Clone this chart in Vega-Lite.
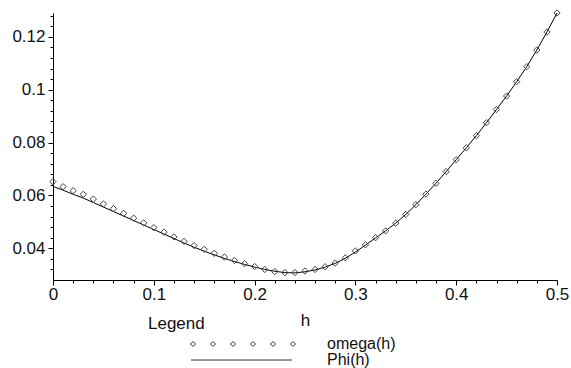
{
  "$schema": "https://vega.github.io/schema/vega-lite/v6.json",
  "width": 504,
  "height": 267,
  "autosize": "none",
  "padding": {"left": 53, "top": 13, "right": 14, "bottom": 88},
  "background": "white",
  "config": {
    "view": {"stroke": null},
    "font": "Liberation Sans",
    "axis": {"grid": false, "domainColor": "black", "tickColor": "black", "labelColor": "#111", "labelFont": "Liberation Sans", "labelFontSize": 17, "titleFont": "Liberation Sans", "titleFontWeight": "normal", "titleColor": "#111", "titleFontSize": 17, "labelOverlap": false}
  },
  "datasets": {
    "curves": [
      {"h": 0.00, "omega": 0.0652, "Phi": 0.0634},
      {"h": 0.01, "omega": 0.0633, "Phi": 0.0620},
      {"h": 0.02, "omega": 0.0618, "Phi": 0.0604},
      {"h": 0.03, "omega": 0.0604, "Phi": 0.0590},
      {"h": 0.04, "omega": 0.0586, "Phi": 0.0573},
      {"h": 0.05, "omega": 0.0568, "Phi": 0.0556},
      {"h": 0.06, "omega": 0.0550, "Phi": 0.0539},
      {"h": 0.07, "omega": 0.0532, "Phi": 0.0522},
      {"h": 0.08, "omega": 0.0514, "Phi": 0.0505},
      {"h": 0.09, "omega": 0.0496, "Phi": 0.0488},
      {"h": 0.10, "omega": 0.0478, "Phi": 0.0471},
      {"h": 0.11, "omega": 0.0461, "Phi": 0.0454},
      {"h": 0.12, "omega": 0.0443, "Phi": 0.0437},
      {"h": 0.13, "omega": 0.0426, "Phi": 0.0420},
      {"h": 0.14, "omega": 0.0410, "Phi": 0.0404},
      {"h": 0.15, "omega": 0.0396, "Phi": 0.0389},
      {"h": 0.16, "omega": 0.0381, "Phi": 0.0375},
      {"h": 0.17, "omega": 0.0367, "Phi": 0.0362},
      {"h": 0.18, "omega": 0.0354, "Phi": 0.0350},
      {"h": 0.19, "omega": 0.0342, "Phi": 0.0339},
      {"h": 0.20, "omega": 0.0331, "Phi": 0.0329},
      {"h": 0.21, "omega": 0.0320, "Phi": 0.0320},
      {"h": 0.22, "omega": 0.0312, "Phi": 0.0313},
      {"h": 0.23, "omega": 0.0308, "Phi": 0.0308},
      {"h": 0.24, "omega": 0.0308, "Phi": 0.0307},
      {"h": 0.25, "omega": 0.0314, "Phi": 0.0311},
      {"h": 0.26, "omega": 0.0320, "Phi": 0.0318},
      {"h": 0.27, "omega": 0.0330, "Phi": 0.0329},
      {"h": 0.28, "omega": 0.0344, "Phi": 0.0343},
      {"h": 0.29, "omega": 0.0364, "Phi": 0.0362},
      {"h": 0.30, "omega": 0.0390, "Phi": 0.0386},
      {"h": 0.31, "omega": 0.0413, "Phi": 0.0412},
      {"h": 0.32, "omega": 0.0440, "Phi": 0.0439},
      {"h": 0.33, "omega": 0.0466, "Phi": 0.0466},
      {"h": 0.34, "omega": 0.0495, "Phi": 0.0495},
      {"h": 0.35, "omega": 0.0528, "Phi": 0.0528},
      {"h": 0.36, "omega": 0.0565, "Phi": 0.0565},
      {"h": 0.37, "omega": 0.0605, "Phi": 0.0605},
      {"h": 0.38, "omega": 0.0646, "Phi": 0.0646},
      {"h": 0.39, "omega": 0.0690, "Phi": 0.0690},
      {"h": 0.40, "omega": 0.0735, "Phi": 0.0735},
      {"h": 0.41, "omega": 0.0780, "Phi": 0.0780},
      {"h": 0.42, "omega": 0.0826, "Phi": 0.0826},
      {"h": 0.43, "omega": 0.0875, "Phi": 0.0875},
      {"h": 0.44, "omega": 0.0925, "Phi": 0.0925},
      {"h": 0.45, "omega": 0.0976, "Phi": 0.0976},
      {"h": 0.46, "omega": 0.1030, "Phi": 0.1030},
      {"h": 0.47, "omega": 0.1087, "Phi": 0.1087},
      {"h": 0.48, "omega": 0.1150, "Phi": 0.1150},
      {"h": 0.49, "omega": 0.1218, "Phi": 0.1218},
      {"h": 0.50, "omega": 0.1290, "Phi": 0.1290}
    ],
    "series": [
      {"series": "omega(h)"},
      {"series": "Phi(h)"}
    ]
  },
  "resolve": {"axis": {"x": "independent", "y": "independent"}},
  "layer": [
    {
      "data": {"name": "curves"},
      "mark": {"type": "line", "color": "black", "strokeWidth": 1},
      "encoding": {
        "x": {
          "field": "h", "type": "quantitative",
          "scale": {"domain": [0, 0.5], "nice": false, "zero": false},
          "axis": {
            "orient": "bottom",
            "title": "h",
            "titlePadding": 10,
            "values": [0, 0.1, 0.2, 0.3, 0.4, 0.5],
            "format": "~g",
            "tickSize": 5,
            "labelPadding": 1,
            "labelFlush": false
          }
        },
        "y": {
          "field": "Phi", "type": "quantitative",
          "scale": {"domain": [0.028, 0.129], "nice": false, "zero": false},
          "axis": {
            "orient": "left",
            "title": null,
            "values": [0.04, 0.06, 0.08, 0.1, 0.12],
            "format": "~g",
            "tickSize": 5,
            "labelPadding": 3
          }
        }
      }
    },
    {
      "data": {"name": "curves"},
      "mark": {"type": "point", "shape": "diamond", "filled": false, "stroke": "#444", "strokeWidth": 1, "size": 40, "opacity": 1},
      "encoding": {
        "x": {
          "field": "h", "type": "quantitative",
          "axis": {
            "orient": "bottom",
            "title": null,
            "domain": false,
            "labels": false,
            "tickSize": 3,
            "values": [0.02, 0.04, 0.06, 0.08, 0.12, 0.14, 0.16, 0.18, 0.22, 0.24, 0.26, 0.28, 0.32, 0.34, 0.36, 0.38, 0.42, 0.44, 0.46, 0.48]
          }
        },
        "y": {
          "field": "omega", "type": "quantitative",
          "axis": {
            "orient": "left",
            "title": null,
            "domain": false,
            "labels": false,
            "tickSize": 3,
            "values": [0.032, 0.036, 0.044, 0.048, 0.052, 0.056, 0.064, 0.068, 0.072, 0.076, 0.084, 0.088, 0.092, 0.096, 0.104, 0.108, 0.112, 0.116, 0.124, 0.128]
          }
        }
      }
    },
    {
      "data": {"name": "series"},
      "mark": {"type": "point", "opacity": 0, "filled": false},
      "encoding": {
        "shape": {
          "field": "series", "type": "nominal",
          "scale": {
            "domain": ["omega(h)", "Phi(h)"],
            "range": [
              "M6.9,0L7.4,-0.5L7.9,0L7.4,0.5Z M10.9,0L11.4,-0.5L11.9,0L11.4,0.5Z M14.9,0L15.4,-0.5L15.9,0L15.4,0.5Z M18.9,0L19.4,-0.5L19.9,0L19.4,0.5Z M22.9,0L23.4,-0.5L23.9,0L23.4,0.5Z M26.9,0L27.4,-0.5L27.9,0L27.4,0.5Z",
              "M7,0L27.2,0"
            ]
          },
          "legend": {
            "title": "Legend",
            "orient": "none",
            "legendX": 95,
            "legendY": 303,
            "padding": 0,
            "titleFont": "Liberation Sans",
            "titleFontSize": 17,
            "titleFontWeight": "normal",
            "titleColor": "#111",
            "titlePadding": 3,
            "labelFont": "Liberation Sans",
            "labelFontSize": 16,
            "labelColor": "#111",
            "labelOffset": 163,
            "labelBaseline": "middle",
            "symbolSize": 100,
            "symbolOpacity": 1,
            "symbolStrokeColor": "#333",
            "symbolFillColor": "transparent",
            "symbolStrokeWidth": 1,
            "rowPadding": -4,
            "labelLimit": 0
          }
        }
      }
    }
  ]
}
